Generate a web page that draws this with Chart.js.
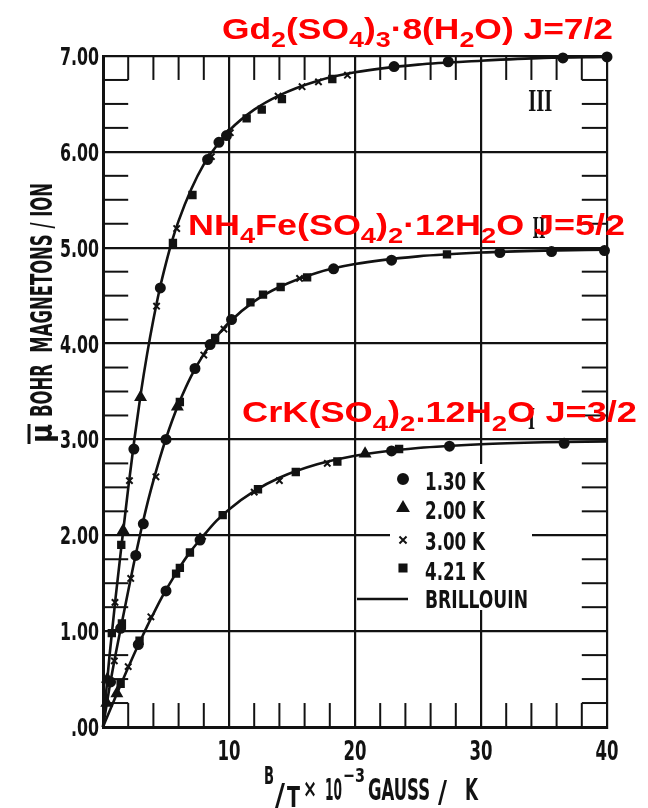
<!DOCTYPE html>
<html>
<head>
<meta charset="utf-8">
<script src="https://cdn.jsdelivr.net/npm/chart.js@4.4.1/dist/chart.umd.min.js"></script>
<style>
  html, body { margin: 0; padding: 0; background: #fff; }
  #wrap { width: 648px; height: 808px; position: relative; }
</style>
</head>
<body>
<div id="wrap"><canvas id="chart"></canvas></div>
<script>
// Brillouin curves (x = B/T in 10^3 gauss/K, y = Bohr magnetons/ion)
const curveX  = [0, 0.5, 1, 1.5, 2, 2.5, 3, 3.5, 4, 4.5, 5, 5.5, 6, 7, 8, 9, 10, 12, 14, 17, 20, 25, 30, 35, 40];
const gdCurve = [0, 0.72, 1.35, 1.93, 2.49, 3.01, 3.48, 3.89, 4.25, 4.57, 4.84, 5.08, 5.28, 5.61, 5.87, 6.06, 6.22, 6.44, 6.59, 6.74, 6.83, 6.91, 6.95, 6.98, 6.99];
const feCurve = [0, 0.40, 0.76, 1.09, 1.42, 1.74, 2.04, 2.32, 2.57, 2.80, 3.01, 3.20, 3.37, 3.66, 3.89, 4.07, 4.22, 4.44, 4.59, 4.74, 4.83, 4.91, 4.95, 4.97, 4.98];
const crCurve = [0, 0.16, 0.315, 0.47, 0.62, 0.77, 0.91, 1.05, 1.18, 1.31, 1.43, 1.54, 1.65, 1.84, 2.00, 2.15, 2.27, 2.46, 2.60, 2.74, 2.83, 2.91, 2.95, 2.97, 2.98];

// measured points [x, y] per salt and temperature
const gd130 = [[2.45, 2.9], [4.55, 4.58], [8.3, 5.92], [9.2, 6.1], [9.8, 6.17], [23.1, 6.89], [27.4, 6.94], [36.5, 6.98], [40, 6.99]];
const gd200 = [[0.35, 0.5], [1.6, 2.05], [2.98, 3.44]];
const gd300 = [[0.95, 1.3], [2.1, 2.57], [4.25, 4.39], [5.85, 5.2], [8.6, 5.95], [10.1, 6.2], [13.9, 6.58], [15.8, 6.68], [17.1, 6.73], [19.4, 6.8]];
const gd421 = [[0.7, 0.98], [1.45, 1.9], [5.55, 5.05], [7.1, 5.55], [11.4, 6.35], [12.6, 6.44], [14.2, 6.55], [18.2, 6.76]];

const fe130 = [[0.6, 0.47], [1.4, 1.03], [2.6, 1.79], [3.2, 2.12], [5.0, 3.0], [7.3, 3.74], [8.5, 3.99], [10.2, 4.25], [18.3, 4.78], [22.9, 4.87], [31.5, 4.95], [35.6, 4.96], [39.8, 4.97]];
const fe200 = [[0.3, 0.25], [5.9, 3.34]];
const fe300 = [[0.9, 0.69], [2.2, 1.55], [4.2, 2.61], [8.0, 3.88], [9.6, 4.15], [15.6, 4.68]];
const fe421 = [[1.5, 1.08], [6.1, 3.39], [8.9, 4.06], [11.7, 4.43], [12.7, 4.51], [14.1, 4.59], [16.2, 4.69], [27.3, 4.93]];

const cr130 = [[2.8, 0.86], [5.0, 1.42], [7.7, 1.95], [22.9, 2.88], [27.5, 2.93], [36.6, 2.96]];
const cr200 = [[1.1, 0.35], [20.8, 2.85]];
const cr300 = [[2.0, 0.63], [3.8, 1.15], [7.9, 1.99], [12.0, 2.45], [14.0, 2.57], [17.8, 2.75]];
const cr421 = [[1.4, 0.45], [2.9, 0.9], [5.8, 1.6], [6.1, 1.66], [6.9, 1.82], [9.5, 2.21], [12.3, 2.48], [15.3, 2.66], [18.6, 2.77], [23.5, 2.9]];

const xTickLabels = ['', '10', '20', '30', '40'];
const yTickLabels = ['.00', '1.00', '2.00', '3.00', '4.00', '5.00', '6.00', '7.00'];
const legendLabels = ['1.30 K', '2.00 K', '3.00 K', '4.21 K', 'BRILLOUIN'];
const saltLabels = ['Gd_2(SO_4)_3·8(H_2O) J=7/2', 'NH_4Fe(SO_4)_2·12H_2O J=5/2', 'CrK(SO_4)_2.12H_2O J=3/2'];

const NARROW = '"Liberation Sans Narrow", "DejaVu Sans Condensed", "Arial Narrow", sans-serif';
const SANS = '"Liberation Sans", Arial, sans-serif';
const SERIF = '"Liberation Serif", "DejaVu Serif", serif';
const INK = '#121212';

const pts = arr => arr.map(p => ({ x: p[0], y: p[1] }));
const curve = ys => curveX.map((x, i) => ({ x, y: ys[i] }));

const markerStyles = [
  { pointStyle: 'circle', pointRadius: 4.5 },
  { pointStyle: 'triangle', pointRadius: 5.5 },
  { pointStyle: 'crossRot', pointRadius: 4.5 },
  { pointStyle: 'rect', pointRadius: 4.5 }
];

function lineSet(label, ys) {
  return {
    label, data: curve(ys), showLine: true, pointRadius: 0,
    borderColor: INK, borderWidth: 2.6, cubicInterpolationMode: 'monotone', clip: false
  };
}
function markSet(label, arr, style) {
  return {
    label, data: pts(arr), showLine: false, clip: false,
    pointStyle: style.pointStyle, pointRadius: style.pointRadius,
    backgroundColor: INK, borderColor: INK, borderWidth: 2
  };
}

// fit a run of text pieces between left and right on a baseline
function drawRich(ctx, pieces, left, right, baseline, family, weight) {
  let total = 0;
  for (const p of pieces) {
    ctx.font = `${weight} ${p.size}px ${family}`;
    p.w = ctx.measureText(p.t).width;
    total += p.w;
  }
  const sx = (right - left) / total;
  ctx.save();
  ctx.translate(left, baseline);
  ctx.scale(sx, 1);
  ctx.textAlign = 'left';
  ctx.textBaseline = 'alphabetic';
  let cx = 0;
  for (const p of pieces) {
    ctx.font = `${weight} ${p.size}px ${family}`;
    ctx.fillText(p.t, cx, p.dy || 0);
    cx += p.w;
  }
  ctx.restore();
}

// width of an old-style condensed numeral label
const labelWidth = t => [...t].reduce((w, c) => w + (c === '.' ? 6 : 11), 0);

function chem(str, size, drop) {
  const out = [];
  let buf = '';
  for (let i = 0; i < str.length; i++) {
    if (str[i] === '_') {
      if (buf) { out.push({ t: buf, size }); buf = ''; }
      out.push({ t: str[i + 1], size: size * 0.76, dy: drop });
      i++;
    } else buf += str[i];
  }
  if (buf) out.push({ t: buf, size });
  return out;
}

const paperPlugin = {
  id: 'paper',
  beforeDatasetsDraw(chart) {
    const { ctx, scales: { x, y } } = chart;
    ctx.save();
    ctx.strokeStyle = INK;
    ctx.lineWidth = 2;
    const seg = (a, b, c, d) => { ctx.beginPath(); ctx.moveTo(a, b); ctx.lineTo(c, d); ctx.stroke(); };
    // inward minor ticks, every 2 units on x and 0.25 on y
    for (let v = 2; v < 40; v += 2) {
      if (v % 10 === 0) continue;
      const px = x.getPixelForValue(v);
      seg(px, y.getPixelForValue(0), px, y.getPixelForValue(0.25));
      seg(px, y.getPixelForValue(7), px, y.getPixelForValue(6.75));
    }
    for (let v = 0.25; v < 7; v += 0.25) {
      if (Math.abs(v - Math.round(v)) < 1e-6) continue;
      const py = y.getPixelForValue(v);
      seg(x.getPixelForValue(0), py, x.getPixelForValue(2), py);
      seg(x.getPixelForValue(40), py, x.getPixelForValue(38), py);
    }
    // roman numerals
    ctx.fillStyle = INK;
    const roman = [['III', 34.7, 6.54, 24], ['II', 34.6, 5.22, 13], ['I', 34.0, 3.22, 7]];
    for (const [t, vx, vy, w] of roman) {
      const cx = x.getPixelForValue(vx), cy = y.getPixelForValue(vy);
      drawRich(ctx, [{ t, size: 32 }], cx - w / 2, cx + w / 2, cy + 11, SERIF, 'bold');
    }
    ctx.restore();
  },
  afterDatasetsDraw(chart) {
    const { ctx } = chart;
    ctx.save();
    // legend box
    ctx.fillStyle = '#fff';
    ctx.fillRect(390, 464, 142, 146);
    ctx.fillStyle = INK;
    ctx.strokeStyle = INK;
    const my = [479, 508, 540, 568];
    markerStyles.forEach((s, i) => {
      ctx.lineWidth = 2;
      Chart.helpers.drawPoint(ctx, { pointStyle: s.pointStyle, radius: s.pointRadius + 0.5, rotation: 0, borderWidth: 2 }, 403, my[i]);
      ctx.fill();
    });
    ctx.lineWidth = 2.6;
    ctx.beginPath(); ctx.moveTo(357, 599); ctx.lineTo(408, 599); ctx.stroke();
    const base = [490, 519, 550, 580, 608];
    const right = [485, 485, 485, 485, 528];
    legendLabels.forEach((t, i) => {
      drawRich(ctx, [{ t, size: 25 }], 425, right[i], base[i], NARROW, 'bold');
    });
    ctx.restore();
  },
  afterDraw(chart) {
    const { ctx, scales: { x, y } } = chart;
    ctx.save();
    ctx.fillStyle = INK;

    // tick labels, condensed like the original lettering
    y.ticks.forEach((tk, i) => {
      const t = yTickLabels[i], w = labelWidth(t), py = y.getPixelForValue(tk.value);
      drawRich(ctx, [{ t, size: 25 }], 99 - w, 99, py + 9, NARROW, 'bold');
    });
    x.ticks.forEach((tk, i) => {
      const t = xTickLabels[i];
      if (!t) return;
      const w = labelWidth(t) + 1, px = x.getPixelForValue(tk.value);
      drawRich(ctx, [{ t, size: 27 }], px - w / 2, px + w / 2, 760, NARROW, 'bold');
    });

    // x axis title
    const xt = [
      { t: 'B', l: 264, r: 274, b: 784, s: 24 },
      { t: '/', l: 275, r: 285, b: 805, s: 30 },
      { t: 'T', l: 287, r: 300, b: 807, s: 28 },
      { t: '×', l: 303, r: 317, b: 797, s: 24 },
      { t: '10', l: 325, r: 342, b: 800, s: 30 },
      { t: '−3', l: 343, r: 365, b: 782, s: 20 },
      { t: 'GAUSS', l: 368, r: 430, b: 800, s: 30 },
      { t: '/', l: 438, r: 447, b: 802, s: 30 },
      { t: 'K', l: 465, r: 478, b: 800, s: 30 }
    ];
    for (const p of xt) drawRich(ctx, [{ t: p.t, size: p.s }], p.l, p.r, p.b, NARROW, 'bold');

    // y axis title (rotated)
    ctx.save();
    ctx.translate(52, 0);
    ctx.rotate(-Math.PI / 2);
    drawRich(ctx, [{ t: 'BOHR  MAGNETONS / ION', size: 30 }], -417, -183, 0, NARROW, 'bold');
    drawRich(ctx, [{ t: 'μ', size: 30 }], -443, -424, 0, NARROW, 'bold');
    ctx.restore();
    ctx.lineWidth = 3;
    ctx.strokeStyle = INK;
    ctx.beginPath(); ctx.moveTo(29, 424); ctx.lineTo(29, 444); ctx.stroke();

    // red salt labels
    ctx.fillStyle = '#ff0000';
    drawRich(ctx, chem(saltLabels[0], 30, 8), 222, 613, 39, SANS, 'bold');
    drawRich(ctx, chem(saltLabels[1], 30, 8), 188, 625, 235, SANS, 'bold');
    drawRich(ctx, chem(saltLabels[2], 30, 9), 242, 637, 422, SANS, 'bold');
    ctx.restore();
  }
};

const ctx = document.getElementById('chart').getContext('2d');
new Chart(ctx, {
  type: 'scatter',
  data: {
    datasets: [
      lineSet('Gd Brillouin', gdCurve),
      lineSet('Fe Brillouin', feCurve),
      lineSet('Cr Brillouin', crCurve),
      markSet('1.30 K', [...gd130, ...fe130, ...cr130], markerStyles[0]),
      markSet('2.00 K', [...gd200, ...fe200, ...cr200], markerStyles[1]),
      markSet('3.00 K', [...gd300, ...fe300, ...cr300], markerStyles[2]),
      markSet('4.21 K', [...gd421, ...fe421, ...cr421], markerStyles[3])
    ]
  },
  options: {
    responsive: true,
    maintainAspectRatio: false,
    animation: false,
    layout: { padding: { top: 56, right: 41, left: 0, bottom: 0 } },
    plugins: { legend: { display: false }, tooltip: { enabled: false } },
    scales: {
      x: {
        type: 'linear', min: 0, max: 40,
        afterFit: s => { s.height = 81; },
        afterBuildTicks: s => { s.ticks = [0, 10, 20, 30, 40].map(v => ({ value: v })); },
        ticks: { display: false },
        grid: { color: INK, lineWidth: 2.2, drawTicks: false },
        border: { color: INK, width: 3 }
      },
      y: {
        type: 'linear', min: 0, max: 7,
        afterFit: s => { s.width = 103; },
        afterBuildTicks: s => { s.ticks = [0, 1, 2, 3, 4, 5, 6, 7].map(v => ({ value: v })); },
        ticks: { display: false },
        grid: { color: INK, lineWidth: 2.2, drawTicks: false },
        border: { color: INK, width: 3 }
      }
    }
  },
  plugins: [paperPlugin]
});
</script>
</body>
</html>
